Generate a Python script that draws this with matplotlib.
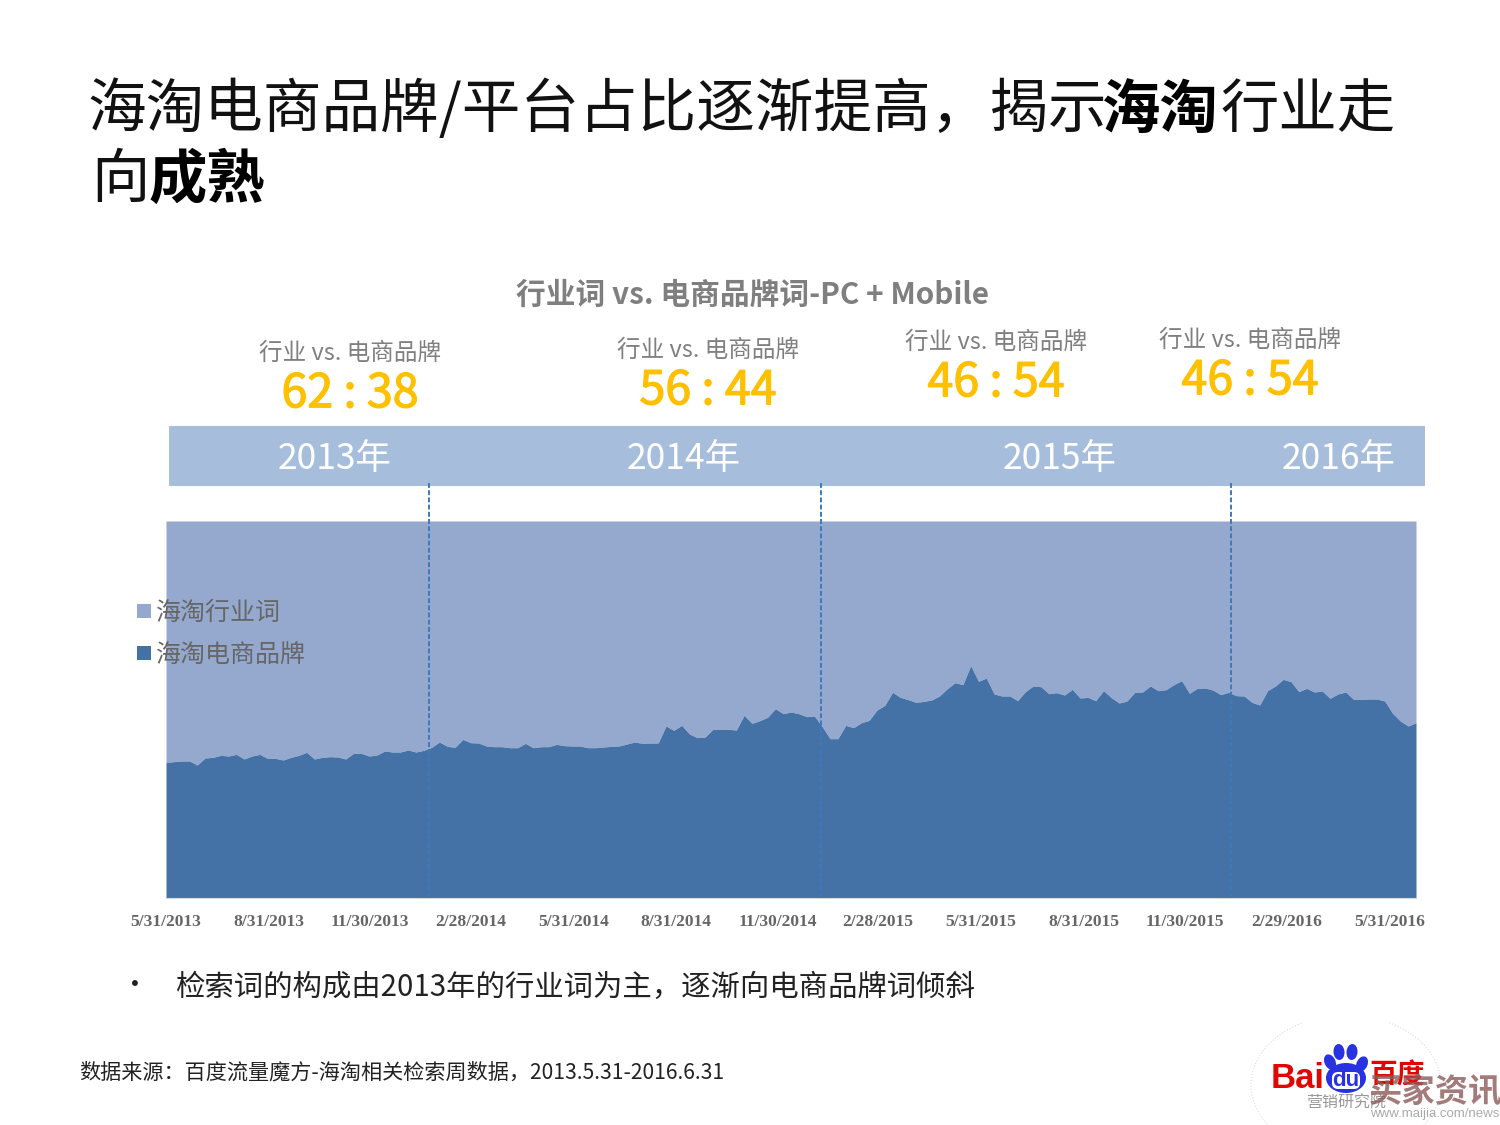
# plot.py
import matplotlib
matplotlib.use('Agg')
import matplotlib.pyplot as plt
import matplotlib.patheffects as pe
from matplotlib.patches import Ellipse, Rectangle, FancyBboxPatch, Arc
import matplotlib.dates as mdates
import pandas as pd

# brand share of weekly search terms, %
brand_share = [
    35.98, 36.16, 36.34, 36.34, 35.27, 37.13, 37.31, 37.84, 37.66, 38.10,
    36.87, 37.66, 38.10, 37.04, 37.04, 36.60, 37.31, 37.84, 38.64, 36.87,
    37.31, 37.49, 37.40, 36.87, 38.37, 38.37, 37.66, 37.93, 38.99, 38.72,
    38.72, 39.25, 38.72, 39.17, 39.96, 41.38, 40.23, 39.96, 42.08, 41.20,
    41.11, 40.32, 40.14, 40.14, 39.87, 39.87, 41.02, 39.87, 40.14, 40.14,
    40.76, 40.40, 40.32, 40.32, 39.87, 39.87, 40.05, 40.23, 40.32, 40.85,
    41.38, 41.02, 41.11, 41.11, 45.62, 44.47, 45.80, 43.50, 42.53, 42.70,
    44.74, 44.74, 44.74, 44.56, 48.45, 46.33, 47.04, 47.92, 50.22, 48.89,
    49.33, 48.89, 48.10, 48.27, 45.44, 42.26, 42.26, 45.80, 45.18, 46.50,
    47.12, 49.86, 51.10, 54.55, 53.22, 52.61, 51.90, 52.16, 52.52, 53.58,
    55.52, 57.11, 56.58, 61.62, 57.47, 58.35, 54.11, 53.58, 53.58, 52.34,
    54.73, 56.23, 56.05, 54.20, 54.46, 53.84, 55.35, 53.05, 53.22, 52.34,
    55.00, 53.14, 51.72, 52.25, 54.55, 54.64, 56.23, 55.00, 55.26, 56.58,
    57.65, 54.29, 55.61, 55.70, 55.17, 53.93, 54.55, 53.67, 53.58, 51.90,
    51.19, 55.00, 56.23, 58.00, 57.38, 54.73, 55.61, 54.64, 54.90, 52.96,
    54.11, 54.64, 52.70, 52.70, 52.78, 52.78, 52.25, 48.98, 46.95, 45.62,
    46.50,
]
weeks = pd.date_range('2013-05-31', periods=len(brand_share), freq='7D')
tick_dates = ['2013-05-31', '2013-08-31', '2013-11-30', '2014-02-28', '2014-05-31',
              '2014-08-31', '2014-11-30', '2015-02-28', '2015-05-31', '2015-08-31',
              '2015-11-30', '2016-02-29', '2016-05-31']
tick_labels = ['5/31/2013', '8/31/2013', '11/30/2013', '2/28/2014', '5/31/2014',
               '8/31/2014', '11/30/2014', '2/28/2015', '5/31/2015', '8/31/2015',
               '11/30/2015', '2/29/2016', '5/31/2016']
period_breaks = ['2014-01-22', '2015-01-08', '2016-01-10']
year_labels = ['2013年', '2014年', '2015年', '2016年']
ratio_labels = ['62 : 38', '56 : 44', '46 : 54', '46 : 54']
legend_labels = ['海淘行业词', '海淘电商品牌']

CJK = ['Noto Sans CJK SC', 'DejaVu Sans']
plt.rcParams['font.family'] = CJK

light_blue = '#95A9CF'
dark_blue = '#4472A6'
band_blue = '#A6BEDC'
yellow = '#FFC000'
gray = '#7F7F7F'

W, H = 1500, 1125
fig = plt.figure(figsize=(15, 11.25), dpi=100, facecolor='white')

# overlay in pixel coords for slide furniture
bg = fig.add_axes([0, 0, 1, 1], zorder=0)
bg.set_xlim(0, W)
bg.set_ylim(H, 0)
bg.axis('off')

over = fig.add_axes([0, 0, 1, 1], zorder=5)
over.set_xlim(0, W)
over.set_ylim(H, 0)
over.axis('off')
over.patch.set_alpha(0)


def txt(x, y, s, size, color='black', ha='left', weight='normal', **kw):
    return over.text(x, y, s, fontsize=size, color=color, ha=ha, va='center', fontweight=weight, **kw)


# title
txt(87, 111, '海淘电商品牌/平台占比逐渐提高，揭示', 42.2, '#111111', weight='light')
txt(1102, 111, '海淘', 42, 'black', weight='bold')
txt(1221, 111, '行业走', 42, '#111111', weight='light')
txt(91, 181, '向', 42, '#111111', weight='light')
txt(149, 181, '成熟', 42, 'black', weight='bold')

# chart heading and period ratios
txt(516, 295, '行业词 vs. 电商品牌词-PC + Mobile', 21.4, gray, weight='bold')
ratio_x = [350, 708, 996, 1250]
sub_y = [353, 350, 342, 340]
ratio_y = [394, 391, 383, 381]
for x, y1, y2, r in zip(ratio_x, sub_y, ratio_y, ratio_labels):
    txt(x, y1, '行业 vs. 电商品牌', 17, gray, ha='center')
    t = txt(x, y2, r, 33.5, yellow, ha='center')
    t.set_path_effects([pe.withStroke(linewidth=0.9, foreground=yellow)])

# year band
bg.add_patch(Rectangle((169, 426), 1256, 60, fc=band_blue, ec='none'))
for x, s in zip([335, 684, 1060, 1339], year_labels):
    txt(x, 459, s, 25.5, 'white', ha='center')

# stacked area
ax = fig.add_axes([166 / W, 1 - 898 / H, 1250 / W, 377 / H], zorder=2)
ax.fill_between(weeks, brand_share, 100, color=light_blue, lw=0)
ax.fill_between(weeks, 0, brand_share, color=dark_blue, lw=0)
ax.set_xlim(weeks[0], weeks[-1])
ax.set_ylim(0, 100)
ax.set_yticks([])
for sp in ax.spines.values():
    sp.set_visible(False)
ax.spines['bottom'].set_visible(True)
ax.spines['bottom'].set_color('#D9D9D9')
ax.xaxis.set_major_locator(matplotlib.ticker.FixedLocator(mdates.date2num(pd.to_datetime(tick_dates))))
ax.set_xticklabels(tick_labels, fontsize=12.6, color='#666666', fontweight='bold',
                   family=['Liberation Serif', 'DejaVu Sans'])
ax.tick_params(axis='x', length=0, pad=11.5)

for d in period_breaks:
    ax.plot([pd.Timestamp(d)] * 2, [0, 1.104], transform=ax.get_xaxis_transform(),
            color='#3F78BA', lw=1.4, ls=(0, (2.5, 1.2)), clip_on=False, zorder=4)

# legend
for y, c, s in zip([611, 653], [light_blue, dark_blue], legend_labels):
    over.add_patch(Rectangle((137, y - 7), 14, 14, fc=c, ec='none'))
    txt(156, y + (2 if y == 611 else 3), s, 18, '#666666', weight='light')

# notes
txt(121, 986, '•', 20, '#222222')
txt(175, 987, '检索词的构成由2013年的行业词为主，逐渐向电商品牌词倾斜', 21.2, '#222222')
txt(79, 1073, '数据来源：百度流量魔方-海淘相关检索周数据，2013.5.31-2016.6.31', 15.2, '#222222')

# logo
over.add_patch(Arc((1346, 1085), 190, 140, theta1=150, theta2=235, color='#DDDDDD', lw=0.8, ls=':'))
over.add_patch(Arc((1346, 1085), 190, 140, theta1=305, theta2=30, color='#DDDDDD', lw=0.8, ls=':'))
paw = '#2932E1'
for x, y, w, h, a in [(1330, 1062, 11, 16, -25), (1339, 1052, 11, 16, -5),
                      (1352, 1052, 11, 16, 5), (1362, 1064, 11, 16, 25)]:
    over.add_patch(Ellipse((x, y), w, h, angle=a, fc=paw, ec='none'))
over.add_patch(Ellipse((1346, 1078), 40, 30, fc=paw, ec='none'))
over.add_patch(FancyBboxPatch((1332, 1072), 28, 17, boxstyle='round,pad=0,rounding_size=6', fc='white', ec='none'))
txt(1346, 1080, 'du', 16, paw, ha='center', weight='bold', family=['Liberation Sans', 'DejaVu Sans'])
txt(1271, 1078, 'Bai', 25, '#E10601', weight='bold', family=['Liberation Sans', 'DejaVu Sans'])
txt(1369, 1076, '百度', 20, '#E10601', weight='bold')
txt(1306, 1103, '营销研究院', 11.5, '#999999')
txt(1369, 1093, '买家资讯', 24, '#8E5A5A', weight='bold', alpha=0.8)
txt(1370, 1114, 'www.maijia.com/news', 9.5, '#AAAAAA', family=['Liberation Sans', 'DejaVu Sans'])

fig.savefig('out.png', dpi=100, facecolor='white')
plt.close(fig)
